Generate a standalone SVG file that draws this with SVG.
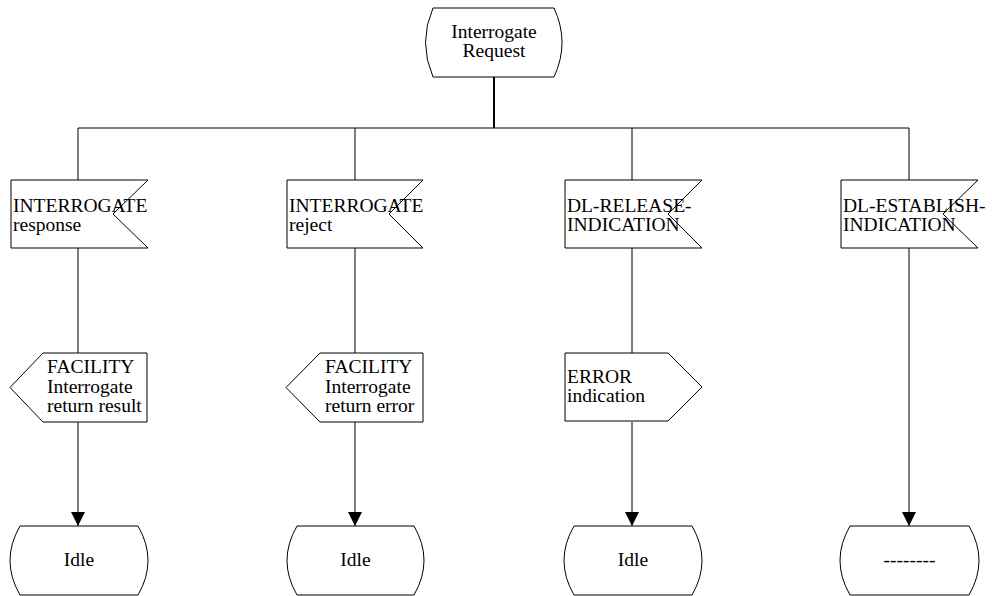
<svg xmlns="http://www.w3.org/2000/svg" width="992" height="596" viewBox="0 0 992 596">
<defs>
<style>
.shape{fill:#fff;stroke:#000;stroke-width:1}
.conn{fill:none;stroke:#000;stroke-width:1}
text{font-family:"Liberation Serif","Times New Roman",serif;font-size:19.5px;fill:#000}
.c{text-anchor:middle}
</style>
<marker id="arr" viewBox="0 0 14 14" refX="14" refY="7" markerWidth="14" markerHeight="14" markerUnits="userSpaceOnUse" orient="auto">
<path d="M0,0 L14,7 L0,14 Z" fill="#000"/>
</marker>
</defs>
<rect width="992" height="596" fill="#fff"/>
<g id="connectors">
<line class="conn" x1="494" y1="77" x2="494" y2="128" style="stroke-width:2"/>
<line class="conn" x1="78" y1="128" x2="909" y2="128"/>
<line class="conn" x1="78" y1="128" x2="78" y2="180"/>
<line class="conn" x1="355" y1="128" x2="355" y2="180"/>
<line class="conn" x1="632" y1="128" x2="632" y2="180"/>
<line class="conn" x1="909" y1="128" x2="909" y2="180"/>
<line class="conn" x1="78" y1="248" x2="78" y2="353"/>
<line class="conn" x1="355" y1="248" x2="355" y2="353"/>
<line class="conn" x1="632" y1="248" x2="632" y2="353"/>
<line class="conn" x1="78" y1="422" x2="78" y2="526" marker-end="url(#arr)"/>
<line class="conn" x1="355" y1="422" x2="355" y2="526" marker-end="url(#arr)"/>
<line class="conn" x1="632" y1="422" x2="632" y2="526" marker-end="url(#arr)"/>
<line class="conn" x1="909" y1="248" x2="909" y2="526" marker-end="url(#arr)"/>
</g>
<g id="start">
<path class="shape" d="M433,8 L554,8 Q570,42.5 554,77 L433,77 Q418,42.5 433,8 Z"/>
<text class="c" x="494" y="38">Interrogate</text>
<text class="c" x="494" y="57">Request</text>
</g>
<g id="in1">
<path class="shape" d="M11,180 L148,180 L113,214 L148,248 L11,248 Z"/>
<text x="13" y="212">INTERROGATE</text>
<text x="13" y="231">response</text>
</g>
<g id="in2">
<path class="shape" d="M287,180 L423,180 L389,214 L423,248 L287,248 Z"/>
<text x="289" y="212">INTERROGATE</text>
<text x="289" y="231">reject</text>
</g>
<g id="in3">
<path class="shape" d="M565,180 L702,180 L668,214 L702,248 L565,248 Z"/>
<text x="567" y="212">DL-RELEASE-</text>
<text x="567" y="231">INDICATION</text>
</g>
<g id="in4">
<path class="shape" d="M841,180 L978,180 L943,214 L978,248 L841,248 Z"/>
<text x="843" y="212">DL-ESTABLISH-</text>
<text x="843" y="231">INDICATION</text>
</g>
<g id="out1">
<path class="shape" d="M43,353 L147,353 L147,422 L43,422 L10,387.5 Z"/>
<text x="47" y="373">FACILITY</text>
<text x="47" y="393">Interrogate</text>
<text x="47" y="412">return result</text>
</g>
<g id="out2">
<path class="shape" d="M320,353 L423,353 L423,422 L320,422 L286,387.5 Z"/>
<text x="325" y="373">FACILITY</text>
<text x="325" y="393">Interrogate</text>
<text x="325" y="412">return error</text>
</g>
<g id="out3">
<path class="shape" d="M565,353 L668,353 L702,387 L668,421 L565,421 Z"/>
<text x="567" y="383">ERROR</text>
<text x="567" y="402">indication</text>
</g>
<g id="state1">
<path class="shape" d="M20,526 L138,526 Q158,560.5 138,595 L20,595 Q0,560.5 20,526 Z"/>
<text class="c" x="79" y="566">Idle</text>
</g>
<g id="state2">
<path class="shape" d="M297,526 L414,526 Q434,560.5 414,595 L297,595 Q277,560.5 297,526 Z"/>
<text class="c" x="355.5" y="566">Idle</text>
</g>
<g id="state3">
<path class="shape" d="M574,526 L692,526 Q712,560.5 692,595 L574,595 Q554,560.5 574,526 Z"/>
<text class="c" x="633" y="566">Idle</text>
</g>
<g id="state4">
<path class="shape" d="M850,526 L969,526 Q989,560.5 969,595 L850,595 Q830,560.5 850,526 Z"/>
<text class="c" x="909.5" y="566">--------</text>
</g>
</svg>
